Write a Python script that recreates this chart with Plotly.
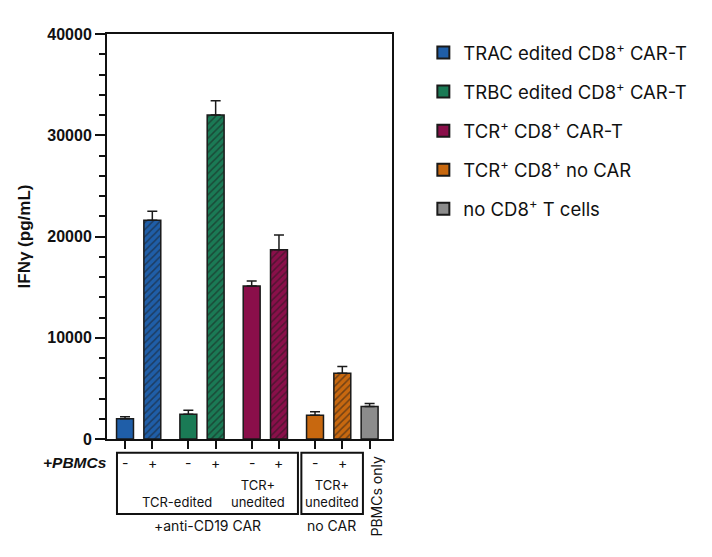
import plotly.graph_objects as go

# ---- data ----
series_names = [
    "TRAC edited CD8<sup>+</sup> CAR-T",
    "TRBC edited CD8<sup>+</sup> CAR-T",
    "TCR<sup>+</sup> CD8<sup>+</sup> CAR-T",
    "TCR<sup>+</sup> CD8<sup>+</sup> no CAR",
    "no CD8<sup>+</sup> T cells",
]
pbmc_labels = [["-", "+"], ["-", "+"], ["-", "+"], ["-", "+"], []]
series_values = [[2000, 21600], [2450, 32000], [15100, 18700], [2350, 6500], [3200]]
series_errors = [[200, 900], [400, 1400], [500, 1450], [350, 650], [300]]
hatched = [[False, True], [False, True], [False, True], [False, True], [False]]
y_ticks = [0, 10000, 20000, 30000, 40000]
colors = ["#1f5ea8", "#1a7a55", "#8a0f4a", "#c8680f", "#8c8c8c"]

# layout structure: group index and offset within group
group_of = [0, 1, 2, 3, 3]
offset_of = [[0, 1], [0, 1], [0, 1], [0, 1], [2]]
GROUP_STEP = 2.32

fig = go.Figure()
all_pos = []
for i, name in enumerate(series_names):
    xs = [group_of[i] * GROUP_STEP + o for o in offset_of[i]]
    all_pos.extend(xs)
    fig.add_trace(go.Bar(
        x=xs, y=series_values[i], name=name, width=0.62,
        marker=dict(
            color=colors[i],
            line=dict(color="#1a1a1a", width=1.5),
            pattern=dict(
                shape=["/" if h else "" for h in hatched[i]],
                fgcolor="#1a1a1a", bgcolor=colors[i], size=5, solidity=0.3,
            ),
        ),
        error_y=dict(type="data", array=series_errors[i], arrayminus=[0] * len(series_errors[i]),
                     symmetric=False, color="#1a1a1a", thickness=1.5, width=5),
        legendgroup=str(i),
    ))

# +/- labels
for i in range(len(series_names)):
    for j, lab in enumerate(pbmc_labels[i]):
        fig.add_annotation(x=group_of[i] * GROUP_STEP + offset_of[i][j], xref="x",
                           y=-0.057, yref="paper", text=lab, showarrow=False,
                           xanchor="center", yanchor="middle",
                           font=dict(size=14, family="Inter, Arial", color="#111"))


def note(x, y, text, size=13, **kw):
    fig.add_annotation(x=x, xref="paper", y=y, yref="paper", text=text, showarrow=False,
                       xanchor=kw.pop("xanchor", "center"), yanchor="middle",
                       font=dict(size=size, family=kw.pop("family", "Inter, Arial"), color="#111"), **kw)


note(0.008, -0.057, "<b><i>+PBMCs</i></b>", size=15.5, xanchor="right", family="Liberation Sans, Arial")
note(0.246, -0.155, "TCR-edited")
note(0.53, -0.135, "TCR+<br>unedited")
note(0.789, -0.135, "TCR+<br>unedited")
note(0.354, -0.214, "+anti-CD19 CAR", size=14)
note(0.789, -0.214, "no CAR", size=14)
note(0.944, -0.142, "PBMCs only", size=14, textangle=-90)

# group boxes
fig.add_shape(type="rect", xref="paper", yref="paper", x0=0.035, x1=0.670, y0=-0.185, y1=-0.034,
              line=dict(color="#111", width=2))
fig.add_shape(type="rect", xref="paper", yref="paper", x0=0.682, x1=0.898, y0=-0.185, y1=-0.034,
              line=dict(color="#111", width=2))

fig.update_layout(
    width=712, height=557,
    margin=dict(l=107, r=320, t=34, b=118, autoexpand=False),
    plot_bgcolor="white", paper_bgcolor="white",
    barmode="overlay",
    showlegend=True,
    legend=dict(x=1.11, y=1.0, xanchor="left", yanchor="top",
                font=dict(size=18.5, family="Inter, Arial", color="#111"),
                tracegroupgap=12, itemsizing="constant"),
    font=dict(family="Liberation Sans, Arial", color="#111"),
)
fig.update_xaxes(range=[-0.66, 9.78], tickvals=all_pos, ticktext=[""] * len(all_pos),
                 ticks="outside", ticklen=8, tickwidth=2, tickcolor="#111",
                 showline=True, linewidth=2, linecolor="#111", mirror=True,
                 showgrid=False, zeroline=False, fixedrange=True)
fig.update_yaxes(range=[0, 40000], tickvals=y_ticks, ticktext=[str(v) for v in y_ticks],
                 ticks="outside", ticklen=10, tickwidth=2, tickcolor="#111",
                 minor=dict(dtick=2000, ticks="outside", ticklen=6, tickwidth=2, tickcolor="#111"),
                 tickfont=dict(size=16, family="Liberation Sans, Arial", color="#111", weight="bold"),
                 title=dict(text="<b>IFNγ (pg/mL)</b>", font=dict(size=17, family="Liberation Sans, Arial"), standoff=12),
                 showline=True, linewidth=2, linecolor="#111", mirror=True,
                 showgrid=False, zeroline=False)

fig.write_html("out.html", config={"displayModeBar": False},
               post_script="document.body.style.margin='0';")
